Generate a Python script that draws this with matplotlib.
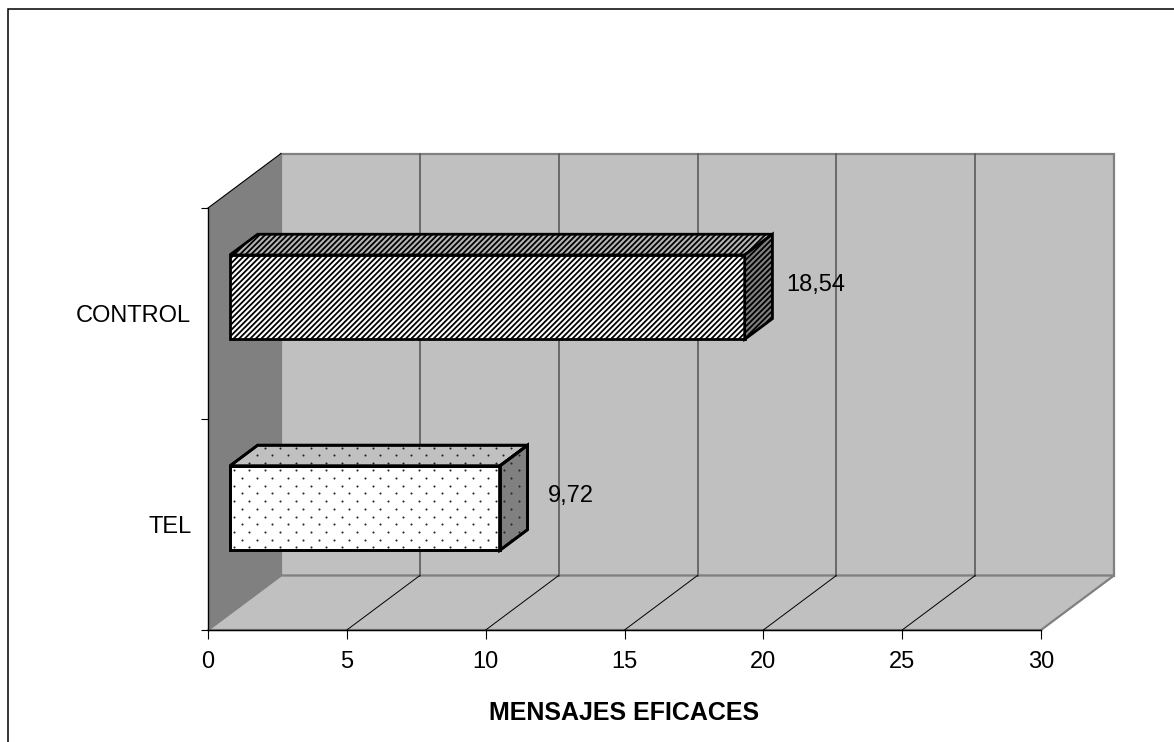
import matplotlib
matplotlib.use("Agg")
import numpy as np
import matplotlib.pyplot as plt
import matplotlib.transforms as mtransforms
from matplotlib.patches import Polygon, Rectangle
from matplotlib.lines import Line2D

# ---- data ----
categories = ["TEL", "CONTROL"]
values = [9.72, 18.54]
value_labels = ["9,72", "18,54"]
x_ticks = [0, 5, 10, 15, 20, 25, 30]
x_title = "MENSAJES EFICACES"

plt.rcParams["font.family"] = ["Liberation Sans", "DejaVu Sans"]

W, H, DPI = 1174, 742, 100
fig = plt.figure(figsize=(W / DPI, H / DPI), dpi=DPI)
fig.patch.set_facecolor("white")

# front plane of the 3-D box
ax = fig.add_axes([208 / W, 1 - 630 / H, (1041 - 208) / W, (630 - 208) / H])
ax.set_xlim(x_ticks[0], x_ticks[-1])
ax.set_ylim(0, len(categories))
ax.patch.set_visible(False)
for s in ("top", "right"):
    ax.spines[s].set_visible(False)
for s in ("left", "bottom"):
    ax.spines[s].set_color("black")
    ax.spines[s].set_linewidth(1.0)
    ax.spines[s].set_zorder(6)

ax.set_xticks(x_ticks)
ax.set_xticklabels([str(t) for t in x_ticks], fontsize=17)
ax.tick_params(axis="x", direction="out", length=6.5, width=0.8, pad=8.5)
ax.set_yticks(range(len(categories) + 1))
ax.set_yticklabels([])
ax.set_yticks([i + 0.5 for i in range(len(categories))], minor=True)
ax.set_yticklabels(categories, minor=True, fontsize=17)
ax.tick_params(axis="y", which="major", direction="out", length=5, width=0.8)
ax.tick_params(axis="y", which="minor", length=0, pad=12)
ax.set_xlabel(x_title, fontsize=18, fontweight="bold", labelpad=20)

# oblique depth offset (display pixels at full depth)
DX, DY = 0.73 * DPI, 0.545 * DPI
ident = mtransforms.IdentityTransform()


def proj(v, c, d):
    x, y = ax.transData.transform((v, c))
    return (x + DX * d, y + DY * d)


def face(pts, hatch_lw=None, **kw):
    ctx = {"hatch.linewidth": hatch_lw} if hatch_lw is not None else {}
    with plt.rc_context(ctx):
        p = Polygon([proj(*q) for q in pts], closed=True, transform=ident,
                    clip_on=False, **kw)
        if hatch_lw is not None and hasattr(p, "set_hatch_linewidth"):
            p.set_hatch_linewidth(hatch_lw)
    ax.add_patch(p)
    return p


def dot_fill(patch, step_x=15.4, step_y=7.7, zorder=4.5):
    """Stipple a polygon with a staggered lattice of small dots."""
    xy = patch.get_xy()
    x0, y0 = xy.min(axis=0)
    x1, y1 = xy.max(axis=0)
    px, py = [], []
    for r, y in enumerate(np.arange(y0 + 3, y1, step_y)):
        shift = (step_x / 2) * (r % 2)
        for x in np.arange(x0 + 4 + shift, x1, step_x):
            px.append(x)
            py.append(y)
    sc = ax.scatter(px, py, s=2.2, c="#222222", marker="o", linewidths=0,
                    transform=ident, zorder=zorder, clip_on=True)
    sc.set_clip_path(patch)


def seg(a, b, **kw):
    (x0, y0), (x1, y1) = proj(*a), proj(*b)
    ax.add_line(Line2D([x0, x1], [y0, y1], transform=ident, clip_on=False, **kw))


vmin, vmax = x_ticks[0], x_ticks[-1]
cmax = len(categories)

# walls and floor
face([(vmin, 0, 1), (vmax, 0, 1), (vmax, cmax, 1), (vmin, cmax, 1)],
     facecolor="#c0c0c0", edgecolor="#808080", linewidth=1.6, zorder=1)
face([(vmin, 0, 0), (vmin, cmax, 0), (vmin, cmax, 1), (vmin, 0, 1)],
     facecolor="#808080", edgecolor="none", zorder=1)
face([(vmin, 0, 0), (vmax, 0, 0), (vmax, 0, 1), (vmin, 0, 1)],
     facecolor="#c0c0c0", edgecolor="#808080", linewidth=1.6, zorder=1)
seg((vmin, cmax, 0), (vmin, cmax, 1), color="black", linewidth=0.8, zorder=2)

for t in x_ticks[1:-1]:
    seg((t, 0, 1), (t, cmax, 1), color="#5a5a5a", linewidth=1.2, zorder=2)
    seg((t, 0, 0), (t, 0, 1), color="black", linewidth=0.7, zorder=2)

# bars
d0, d1 = 0.30, 0.68
half = 0.20
styles = [
    dict(hatch=None, front="white", top="#c0c0c0", side="#808080", hlw=None),
    dict(hatch="//////", front="white", top="#b4b4b4", side="#808080", hlw=1.3),
]
for i, (v, st) in enumerate(zip(values, styles)):
    c0, c1 = i + 0.5 - half, i + 0.5 + half
    common = dict(edgecolor="black", linewidth=2.0, zorder=4)
    if st["hatch"]:
        common.update(hatch=st["hatch"], hatch_lw=st["hlw"])
    faces = [
        face([(0, c0, d0), (v, c0, d0), (v, c1, d0), (0, c1, d0)],
             facecolor=st["front"], **common),
        face([(0, c1, d0), (v, c1, d0), (v, c1, d1), (0, c1, d1)],
             facecolor=st["top"], **common),
        face([(v, c0, d0), (v, c0, d1), (v, c1, d1), (v, c1, d0)],
             facecolor=st["side"], **common),
    ]
    if not st["hatch"]:
        for f in faces:
            dot_fill(f)
        # redraw outlines above the stipple
        for f in faces:
            ol = Polygon(f.get_xy(), closed=True, transform=ident, fill=False,
                         edgecolor="black", linewidth=2.0, zorder=4.6,
                         clip_on=False)
            ax.add_patch(ol)

# value labels beside each bar
for i, (v, lab) in enumerate(zip(values, value_labels)):
    xf, _ = proj(v, i + 0.5, 0)
    _, y = proj(v, i + 0.5, 0.53)
    ax.text(xf + 93, y, lab, transform=ident, ha="center", va="center",
            fontsize=17, color="black", zorder=5, clip_on=False)

# outer frame
fig.add_artist(Rectangle((8 / W, -0.1), 1.2, 1.1 - 9 / H,
                         transform=fig.transFigure, fill=False,
                         edgecolor="black", linewidth=1.1))

fig.savefig("out.png", dpi=DPI)
